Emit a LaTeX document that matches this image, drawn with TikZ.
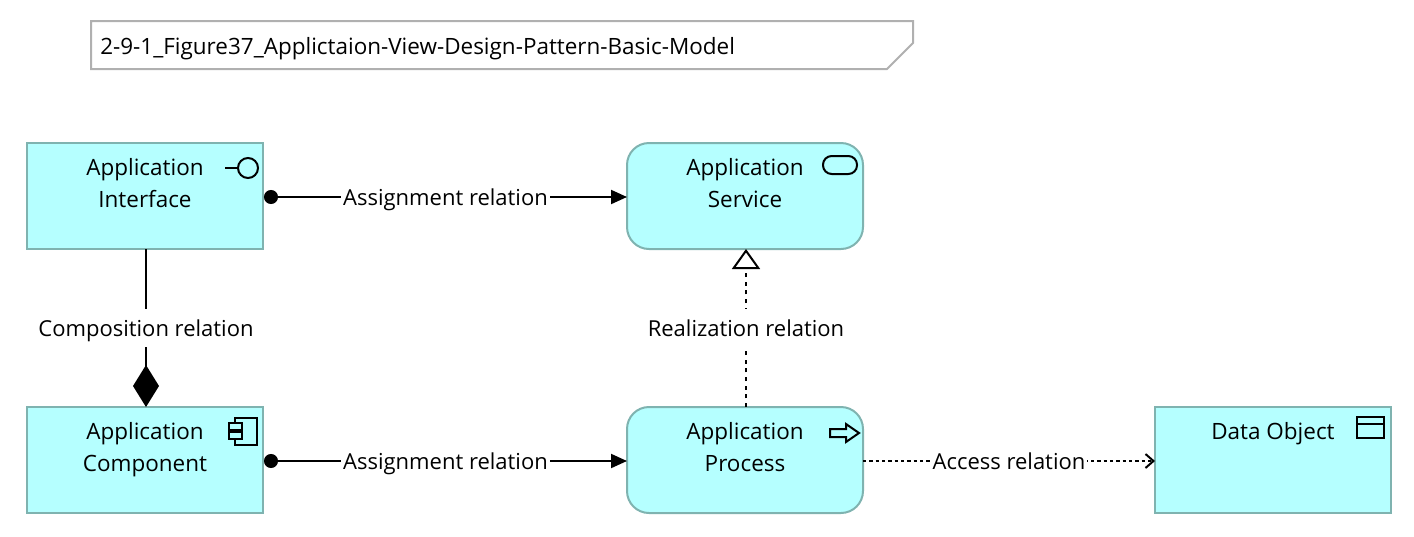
\documentclass[tikz,border=0pt]{standalone}
\usepackage{fontspec}
\setmainfont{Open Sans}
\usetikzlibrary{arrows.meta}
\usetikzlibrary{positioning}
\definecolor{appfill}{HTML}{B5FFFF}
\definecolor{appline}{HTML}{7FB3B0}
\definecolor{noteline}{HTML}{B0B0B0}
\begin{document}
\begin{tikzpicture}[x=0.75pt,y=-0.75pt]
\tikzset{font=\fontsize{16.5pt}{24pt}\selectfont}
\tikzset{boxsq/.style={draw=appline, fill=appfill, line width=1.5pt, minimum width=177pt, minimum height=79.5pt, outer sep=0pt, inner sep=0pt}}
\tikzset{boxrnd/.style={boxsq, rounded corners=16.5pt}}
\tikzset{boxtext/.style={font=\fontsize{16.85pt}{24pt}\selectfont, align=center, anchor=north, inner sep=0pt}}
\tikzset{rellabel/.style={fill=white, inner xsep=1.5pt, inner ysep=5pt, text height=15.4pt, text depth=2.6pt}}
\tikzset{conn/.style={line width=1.5pt}}
\tikzset{icon/.style={line width=1.5pt, black}}
\tikzset{assign/.style={conn, {Circle[length=10.5pt]}-{Triangle[length=12pt,width=10.5pt]}}}
\tikzset{compose/.style={conn, {Diamond[length=31.5pt,width=19.5pt]}-}}
\tikzset{realize/.style={conn, dash pattern=on 3pt off 3.5pt, -{Triangle[open,length=15pt,width=21pt,fill=white]}}}
\tikzset{access/.style={conn, dash pattern=on 2.5pt off 2.25pt, -{Straight Barb[length=6pt,width=10.5pt]}}}
\useasboundingbox (0,0) rectangle (1414,536);
% title note
\draw[line width=1.5pt, draw=noteline, fill=white] (91,21) -- (913,21) -- (913,43) -- (887,69) -- (91,69) -- cycle;
\node[boxtext, anchor=west] (title) at (100,49) {2-9-1\_Figure37\_Applictaion-View-Design-Pattern-Basic-Model};
% elements
\node[boxsq] (intf) at (145,196) {};
\node[boxrnd, right=273pt of intf] (serv) {};
\node[boxsq, below=118.5pt of intf] (comp) {};
\node[boxrnd, right=273pt of comp] (proc) {};
\node[boxsq, right=219pt of proc] (data) {};
\node[boxtext, below=11.2pt of intf.north] (intftext) {Application\\Interface};
\node[boxtext, below=11.2pt of serv.north] (servtext) {Application\\Service};
\node[boxtext, below=11.2pt of comp.north] (comptext) {Application\\Component};
\node[boxtext, below=11.2pt of proc.north] (proctext) {Application\\Process};
\node[boxtext, below=11.2pt of data.north] (datatext) {Data Object};
% relations
\draw[assign] ([shift={(1,1)}]intf.east) -- node[rellabel] (rel1) {Assignment relation} ([shift={(0,1)}]serv.west);
\draw[assign] ([shift={(1,1)}]comp.east) -- node[rellabel] (rel2) {Assignment relation} ([shift={(0,1)}]proc.west);
\draw[compose] ([xshift=.75pt]comp.north) -- node[rellabel] (rel3) {Composition relation} ([xshift=.75pt]intf.south);
\draw[realize] ([xshift=.75pt]proc.north) -- node[rellabel] (rel4) {Realization relation} ([xshift=.75pt]serv.south);
\draw[access] ([yshift=-.75pt]proc.east) -- node[rellabel] (rel5) {Access relation} ([yshift=-.75pt]data.west);
% icons
\begin{scope}[shift={(intf.north east)}]
\draw[icon] (-38,25) -- (-25,25);
\draw[icon] (-15,25) circle[radius=10];
\end{scope}
\begin{scope}[shift={(serv.north east)}]
\draw[icon, rounded corners=6.5pt] (-40,13) rectangle (-6,31);
\end{scope}
\begin{scope}[shift={(comp.north east)}]
\draw[icon] (-28,11) rectangle (-6,38);
\draw[icon, fill=appfill] (-34,16) rectangle (-21,23);
\draw[icon, fill=appfill] (-34,25) rectangle (-21,32);
\end{scope}
\begin{scope}[shift={(proc.north east)}]
\draw[icon] (-33,22) -- (-17,22) -- (-17,17) -- (-4,26) -- (-17,35) -- (-17,30) -- (-33,30) -- cycle;
\end{scope}
\begin{scope}[shift={(data.north east)}]
\draw[icon] (-34,10) rectangle (-7,31);
\draw[icon] (-34,17) -- (-7,17);
\end{scope}
\end{tikzpicture}
\end{document}
